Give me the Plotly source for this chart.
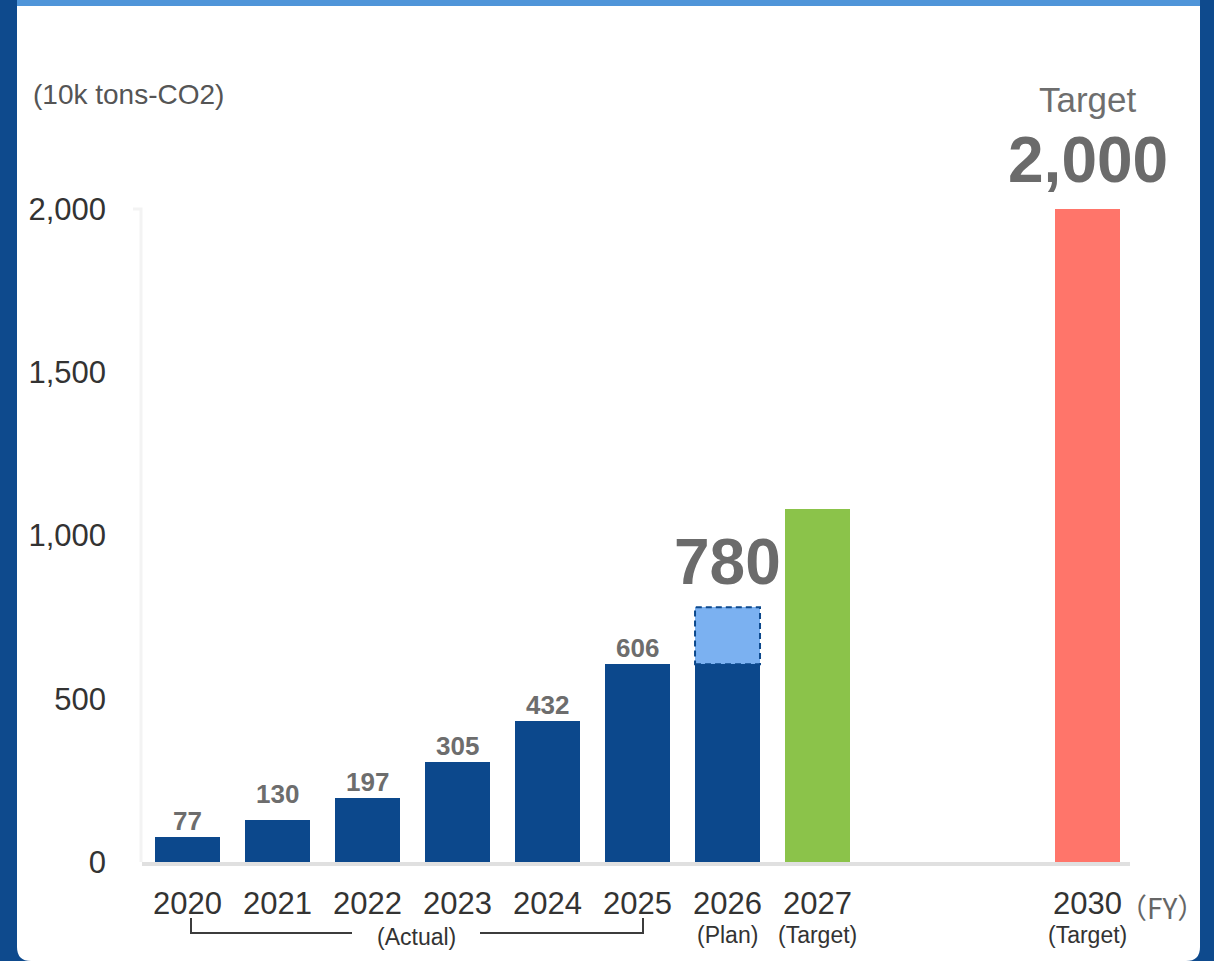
import plotly.graph_objects as go

# ---- data -------------------------------------------------------------
actual_years = [2020, 2021, 2022, 2023, 2024, 2025]
actual_values = [77, 130, 197, 305, 432, 606]

plan_year = 2026
plan_base = 606          # amount already secured toward the FY2026 plan
plan_total = 780         # FY2026 plan

target_years = [2027, 2030]
target_values = [1080, 2000]

tick_years = [2020, 2021, 2022, 2023, 2024, 2025, 2026, 2027, 2030]
tick_labels = ["2020", "2021", "2022", "2023", "2024", "2025", "2026", "2027", "2030"]
sub_label_years = [2026, 2027, 2030]
sub_labels = ["(Plan)", "(Target)", "(Target)"]
y_ticks = [0, 500, 1000, 1500, 2000]

# ---- canvas geometry --------------------------------------------------
W, H = 1214, 961
ML, MR, MT, MB = 142, 84, 40, 99
PW, PH = W - ML - MR, H - MT - MB
Y_MAX = 2517.6
X_RANGE = [2019.494, 2030.472]
BAR_W = 0.722

NAVY = "#0c488c"
LIGHT = "#7bb1f1"
GREEN = "#8bc34a"
RED = "#ff756a"
FRAME = "#0e4a8d"
FONT = "Arial, 'Liberation Sans', sans-serif"

# extra lift (px) for individual value labels
label_lift = {2021: 10}


def px(x):
    """canvas pixel x -> paper x"""
    return (x - ML) / PW


def py(y):
    """canvas pixel y -> paper y"""
    return (H - MB - y) / PH


fig = go.Figure()

fig.add_trace(go.Bar(
    x=actual_years + [plan_year], y=actual_values + [plan_base],
    width=BAR_W, marker=dict(color=NAVY, line=dict(width=0)),
    hoverinfo="skip", showlegend=False))
fig.add_trace(go.Bar(
    x=[plan_year], y=[plan_total - plan_base], base=[plan_base],
    width=BAR_W, marker=dict(color=LIGHT, line=dict(width=0)),
    hoverinfo="skip", showlegend=False))
fig.add_trace(go.Bar(
    x=target_years, y=target_values, width=BAR_W,
    marker=dict(color=[GREEN, RED], line=dict(width=0)),
    hoverinfo="skip", showlegend=False))

shapes = []
# white card with rounded lower corners
r_x, r_y = 14 / PW, 14 / PH
x0, x1 = px(17), px(1200)
y_top, y_bot = py(0), py(961)
shapes.append(dict(
    type="path", xref="paper", yref="paper", layer="below",
    path=(f"M {x0},{y_top} L {x1},{y_top} L {x1},{y_bot + r_y} "
          f"Q {x1},{y_bot} {x1 - r_x},{y_bot} L {x0 + r_x},{y_bot} "
          f"Q {x0},{y_bot} {x0},{y_bot + r_y} Z"),
    fillcolor="white", line=dict(width=0)))
# accent strip along the top of the card
shapes.append(dict(type="rect", xref="paper", yref="paper", layer="below",
                   x0=px(17), x1=px(1200), y0=py(0), y1=py(6),
                   fillcolor="#4f95d9", line=dict(width=0)))
# faint value axis
shapes.append(dict(type="path", xref="paper", yref="y", layer="below",
                   path=f"M {px(133)},{2000} L {px(141)},{2000} L {px(141)},0",
                   line=dict(color="#f3f3f3", width=3)))
# dashed outline around the planned increment
shapes.append(dict(type="rect", xref="x", yref="y",
                   x0=plan_year - BAR_W / 2, x1=plan_year + BAR_W / 2,
                   y0=plan_base, y1=plan_total,
                   line=dict(color=NAVY, width=2, dash="6px,4px")))
# bracket spanning the actual-result years
bracket_col = "#3c3c3c"
shapes.append(dict(type="path", xref="paper", yref="paper",
                   path=f"M {px(191)},{py(918)} L {px(191)},{py(933)} L {px(352)},{py(933)}",
                   line=dict(color=bracket_col, width=2)))
shapes.append(dict(type="path", xref="paper", yref="paper",
                   path=f"M {px(480)},{py(933)} L {px(643)},{py(933)} L {px(643)},{py(918)}",
                   line=dict(color=bracket_col, width=2)))

annotations = []
# values above the actual bars
for yr, v in zip(actual_years, actual_values):
    annotations.append(dict(x=yr, y=v, xref="x", yref="y", text=f"<b>{v:,}</b>",
                            showarrow=False, xanchor="center", yanchor="bottom",
                            yshift=-1 + label_lift.get(yr, 0),
                            font=dict(family=FONT, size=26, color="#6d6d6d")))
# headline numbers
annotations.append(dict(x=plan_year, y=plan_total, xref="x", yref="y",
                        text=f"<b>{plan_total:,}</b>", showarrow=False,
                        xanchor="center", yanchor="bottom", yshift=7,
                        font=dict(family=FONT, size=64, color="#6b6b6b")))
annotations.append(dict(x=target_years[-1], y=target_values[-1], xref="x", yref="y",
                        text=f"<b>{target_values[-1]:,}</b>", showarrow=False,
                        xanchor="center", yanchor="bottom", yshift=11,
                        font=dict(family=FONT, size=64, color="#6b6b6b")))
annotations.append(dict(x=target_years[-1], y=target_values[-1], xref="x", yref="y",
                        text="Target", showarrow=False,
                        xanchor="center", yanchor="bottom", yshift=88,
                        font=dict(family=FONT, size=35, color="#6e6e6e")))
# second line under selected years
for yr, t in zip(sub_label_years, sub_labels):
    annotations.append(dict(x=yr, y=py(935), xref="x", yref="paper", text=t,
                            showarrow=False, xanchor="center", yanchor="middle",
                            font=dict(family=FONT, size=23, color="#333333")))
annotations.append(dict(x=px(416), y=py(937), xref="paper", yref="paper",
                        text="(Actual)", showarrow=False,
                        xanchor="center", yanchor="middle",
                        font=dict(family=FONT, size=23, color="#333333")))
# units
annotations.append(dict(x=px(31), y=py(94), xref="paper", yref="paper",
                        text="(10k tons-CO2)", showarrow=False,
                        xanchor="left", yanchor="middle",
                        font=dict(family=FONT, size=28, color="#555555")))
annotations.append(dict(x=px(1117), y=py(907), xref="paper", yref="paper",
                        text="（FY）", showarrow=False,
                        xanchor="left", yanchor="middle",
                        font=dict(family="'Noto Sans CJK JP', sans-serif", size=28,
                                  color="#666666")))

fig.update_layout(
    width=W, height=H,
    margin=dict(l=ML, r=MR, t=MT, b=MB, pad=0),
    paper_bgcolor=FRAME, plot_bgcolor="rgba(0,0,0,0)",
    barmode="overlay", bargap=0,
    shapes=shapes, annotations=annotations,
    font=dict(family=FONT),
    xaxis=dict(range=X_RANGE, tickmode="array", tickvals=tick_years, ticktext=tick_labels,
               tickfont=dict(family=FONT, size=31, color="#333333"),
               ticks="", showgrid=False, zeroline=False,
               showline=True, linecolor="#e0e0e0", linewidth=4,
               ticklabelstandoff=11, fixedrange=True),
    yaxis=dict(range=[0, Y_MAX], tickmode="array", tickvals=y_ticks, tickformat=",",
               tickfont=dict(family=FONT, size=31, color="#333333"),
               ticks="", showgrid=False, zeroline=False, showline=False,
               ticklabelstandoff=35, fixedrange=True),
)

fig.write_html("out.html", config={"displayModeBar": False})
